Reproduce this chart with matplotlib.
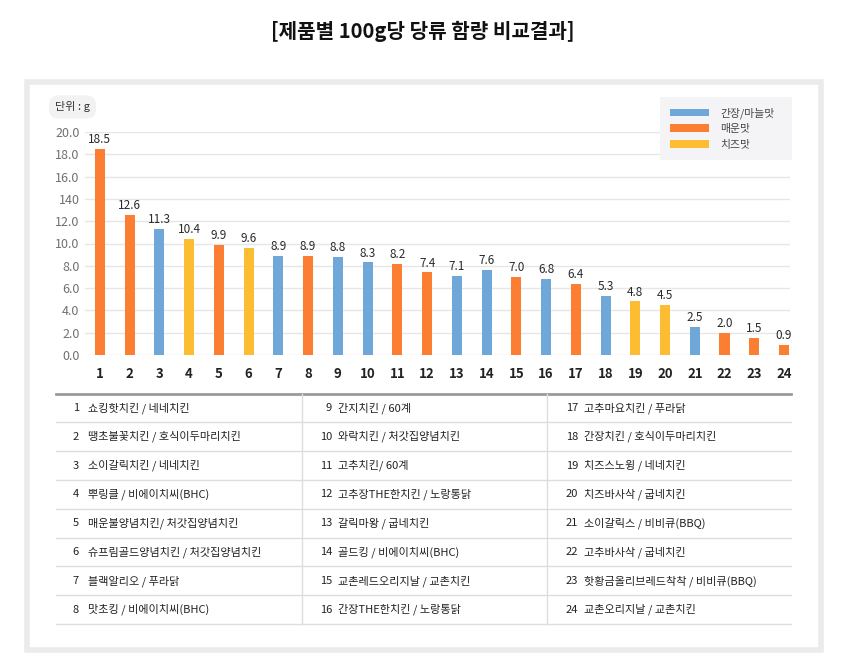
import matplotlib
matplotlib.use("Agg")
import matplotlib.pyplot as plt
from matplotlib.patches import Patch, Rectangle
from matplotlib.lines import Line2D

plt.rcParams['font.family'] = ['Noto Sans CJK KR', 'DejaVu Sans']

# ---------------- data ----------------
ranks = list(range(1, 25))
sugar = [18.5, 12.6, 11.3, 10.4, 9.9, 9.6, 8.9, 8.9, 8.8, 8.3, 8.2, 7.4,
         7.1, 7.6, 7.0, 6.8, 6.4, 5.3, 4.8, 4.5, 2.5, 2.0, 1.5, 0.9]
flavor = ['매운맛', '매운맛', '간장/마늘맛', '치즈맛', '매운맛', '치즈맛', '간장/마늘맛', '매운맛',
          '간장/마늘맛', '간장/마늘맛', '매운맛', '매운맛', '간장/마늘맛', '간장/마늘맛', '매운맛',
          '간장/마늘맛', '매운맛', '간장/마늘맛', '치즈맛', '치즈맛', '간장/마늘맛', '매운맛',
          '매운맛', '매운맛']
flavor_order = ['간장/마늘맛', '매운맛', '치즈맛']
y_ticks = [0, 2, 4, 6, 8, 10, 12, 14, 16, 18, 20]
y_tick_labels = ['0.0', '2.0', '4.0', '6.0', '8.0', '10.0', '12.0', '140', '16.0', '18.0', '20.0']
products = ['쇼킹핫치킨 / 네네치킨', '땡초불꽃치킨 / 호식이두마리치킨', '소이갈릭치킨 / 네네치킨',
            '뿌링클 / 비에이치씨(BHC)', '매운불양념치킨/ 처갓집양념치킨', '슈프림골드양념치킨 / 처갓집양념치킨',
            '블랙알리오 / 푸라닭', '맛초킹 / 비에이치씨(BHC)', '간지치킨 / 60계', '와락치킨 / 처갓집양념치킨',
            '고추치킨/ 60계', '고추장THE한치킨 / 노랑통닭', '갈릭마왕 / 굽네치킨', '골드킹 / 비에이치씨(BHC)',
            '교촌레드오리지날 / 교촌치킨', '간장THE한치킨 / 노랑통닭', '고추마요치킨 / 푸라닭',
            '간장치킨 / 호식이두마리치킨', '치즈스노윙 / 네네치킨', '치즈바사삭 / 굽네치킨',
            '소이갈릭스 / 비비큐(BBQ)', '고추바사삭 / 굽네치킨', '핫황금올리브레드착착 / 비비큐(BBQ)',
            '교촌오리지날 / 교촌치킨']
title = '[제품별 100g당 당류 함량 비교결과]'
unit_label = '단위 : g'

colors = {'간장/마늘맛': '#6fa7d8', '매운맛': '#fb7e33', '치즈맛': '#fdbd33'}

# ---------------- figure ----------------
W, H = 845, 661
fig = plt.figure(figsize=(W / 100, H / 100), dpi=100)
fig.patch.set_facecolor('white')

def fx(px):
    return px / W

def fy(py):
    return 1 - py / H

# outer light-gray frame
fig.patches.append(Rectangle((fx(26.5), fy(649.5)), fx(821 - 26.5), (649.5 - 81.5) / H,
                             transform=fig.transFigure, fill=False, edgecolor='#ebebeb',
                             linewidth=4, zorder=0))

fig.text(0.5, fy(31), title, ha='center', va='center', fontsize=14.5, color='#111111',
         fontweight='bold')

# ---------------- bar chart ----------------
ax = fig.add_axes([fx(85), fy(355), fx(790 - 85), (355 - 132) / H])
ax.set_xlim(0.5, 24.2)
ax.set_ylim(0, 20)
bar_colors = [colors[f] for f in flavor]
ax.bar(ranks, sugar, width=0.34, color=bar_colors, zorder=3)
for r, v in zip(ranks, sugar):
    ax.annotate(f'{v:.1f}', (r, v), xytext=(0, 2), textcoords='offset points',
                ha='center', va='bottom', fontsize=8.5, color='#2a2a2a',
                fontweight='medium')
ax.set_yticks(y_ticks)
ax.set_yticklabels(y_tick_labels)
ax.set_xticks(ranks)
ax.set_xticklabels([str(r) for r in ranks])
ax.tick_params(axis='y', length=0, pad=4, labelsize=9, labelcolor='#707070')
ax.tick_params(axis='x', length=0, pad=9, labelsize=9.5, labelcolor='#222222')
for lab in ax.get_xticklabels():
    lab.set_fontweight('bold')
ax.grid(axis='y', color='#e6e6e6', linewidth=1, zorder=0)
for s in ax.spines.values():
    s.set_visible(False)

handles = [Patch(facecolor=colors[f], edgecolor='none', label=f) for f in flavor_order]
leg = ax.legend(handles=handles, loc='upper left',
                bbox_to_anchor=(fx(660), fy(160), fx(132), 63 / H),
                bbox_transform=fig.transFigure, mode='expand', fontsize=7.8, frameon=True,
                facecolor='#f4f4f6', edgecolor='none', fancybox=False,
                handlelength=3.6, handleheight=0.75, handletextpad=1.0,
                labelspacing=0.5, borderpad=0.95, borderaxespad=0)
for t in leg.get_texts():
    t.set_color('#444444')
leg.get_frame().set_alpha(1)

fig.text(fx(72.5), fy(107), unit_label, ha='center', va='center', fontsize=8,
         color='#333333', fontweight='medium',
         bbox=dict(boxstyle='round,pad=0.55,rounding_size=0.9', facecolor='#f2f2f2',
                   edgecolor='none'))

# ---------------- table ----------------
t_left, t_right, t_top, t_bot = 56, 791, 393.5, 624
row_h = (t_bot - t_top) / 8
fig.add_artist(Line2D([fx(t_left), fx(t_right)], [fy(t_top), fy(t_top)],
                      transform=fig.transFigure, color='#9a9a9a', linewidth=2))
for i in range(1, 9):
    yy = t_top + i * row_h
    fig.add_artist(Line2D([fx(t_left), fx(t_right)], [fy(yy), fy(yy)],
                          transform=fig.transFigure, color='#dddddd', linewidth=1))
for xs in (302.5, 547.5):
    fig.add_artist(Line2D([fx(xs), fx(xs)], [fy(t_top + 1), fy(t_bot)],
                          transform=fig.transFigure, color='#dddddd', linewidth=1))

num_right = [79, 332, 578]
name_left = [88, 338, 584]
for idx, (r, name) in enumerate(zip(ranks, products)):
    col = idx // 8
    row = idx % 8
    yc = t_top + (row + 0.5) * row_h
    fig.text(fx(num_right[col]), fy(yc), str(r), ha='right', va='center',
             fontsize=8, color='#222222', fontweight='medium')
    fig.text(fx(name_left[col]), fy(yc), name, ha='left', va='center',
             fontsize=8, color='#222222', fontweight='medium')

fig.savefig('out.png', dpi=100, facecolor='white')
